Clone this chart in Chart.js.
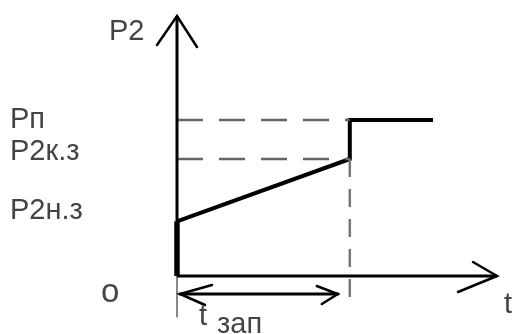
<!DOCTYPE html>
<html>
<head>
<meta charset="utf-8">
<script src="https://cdn.jsdelivr.net/npm/chart.js@4/dist/chart.umd.min.js"></script>
<style>
  html, body { margin: 0; padding: 0; background: #fff; }
  canvas { display: block; }
</style>
</head>
<body>
<canvas id="diagram" width="516" height="334"></canvas>
<script>
// time axis values (arbitrary units)
const tZap = 5.4;
const tEnd = 8.0;
const tAxisEnd = 10;
const pAxisEnd = 10;

// power levels and their labels
const levelLabels = ['Рп', 'P2к.з', 'P2н.з'];
const levelValues = [6.0, 4.5, 2.1];

// the P2(t) curve
const curveT = [0, 0, tZap, tZap, tEnd];
const curveP2 = [0, 2.1, 4.5, 6.0, 6.0];

const axisLabels = { y: 'P2', x: 't', origin: 'o', dim: 't', dimSub: 'зап' };

function pts(xs, ys) {
  return xs.map((x, i) => ({ x: x, y: ys[i] }));
}

function line(data, color, width, dash) {
  return {
    data: data,
    showLine: true,
    borderColor: color,
    borderWidth: width,
    borderDash: dash || [],
    pointRadius: 0,
    fill: false,
    tension: 0,
    clip: false
  };
}

const font = '29px "Liberation Sans", Arial, sans-serif';
const textColor = '#444';

// arrowheads, dimension arrow and labels
const sketchPlugin = {
  id: 'sketch',
  afterDatasetsDraw(chart) {
    const ctx = chart.ctx;
    const xs = chart.scales.x;
    const ys = chart.scales.y;
    const x0 = xs.getPixelForValue(0);
    const y0 = ys.getPixelForValue(0);
    const yTop = ys.getPixelForValue(pAxisEnd);
    const xEnd = xs.getPixelForValue(tAxisEnd);
    const xZap = xs.getPixelForValue(tZap);

    ctx.save();
    ctx.strokeStyle = '#000';
    ctx.lineCap = 'round';
    ctx.lineWidth = 2.5;

    // y axis arrow
    ctx.beginPath();
    ctx.moveTo(x0 - 20, yTop + 29);
    ctx.lineTo(x0, yTop);
    ctx.lineTo(x0 + 20, yTop + 31);
    ctx.stroke();

    // x axis arrow
    ctx.beginPath();
    ctx.moveTo(xEnd - 24, y0 - 14);
    ctx.lineTo(xEnd, y0);
    ctx.lineTo(xEnd - 39, y0 + 16);
    ctx.stroke();

    // dimension arrow for t зап
    const dy = y0 + 18;
    const dl = x0 + 3;
    const dr = xZap - 12;
    ctx.lineWidth = 3;
    ctx.beginPath();
    ctx.moveTo(dl, dy);
    ctx.lineTo(dr, dy);
    ctx.stroke();
    ctx.lineWidth = 2.5;
    ctx.beginPath();
    ctx.moveTo(dl + 32, dy - 9);
    ctx.lineTo(dl, dy);
    ctx.lineTo(dl + 25, dy + 11);
    ctx.stroke();
    ctx.beginPath();
    ctx.moveTo(dr - 21, dy - 8);
    ctx.lineTo(dr, dy);
    ctx.lineTo(dr - 16, dy + 10);
    ctx.stroke();

    // text
    ctx.fillStyle = textColor;
    ctx.font = font;
    ctx.textBaseline = 'alphabetic';
    ctx.textAlign = 'left';
    const labelShift = [8, 1, -2];
    levelLabels.forEach((lab, i) => {
      ctx.fillText(lab, 10, ys.getPixelForValue(levelValues[i]) + labelShift[i]);
    });
    ctx.fillText(axisLabels.y, x0 - 68, yTop + 24);
    ctx.fillText(axisLabels.x, xEnd + 7, y0 + 37);
    ctx.font = '33px "Liberation Sans", Arial, sans-serif';
    ctx.fillText(axisLabels.origin, x0 - 76, y0 + 26);
    ctx.font = font;
    ctx.fillText(axisLabels.dim, x0 + 22, y0 + 49);
    ctx.fillText(axisLabels.dimSub, x0 + 40, y0 + 57);
    ctx.restore();
  }
};

const datasets = [
  // axes
  line([{ x: 0, y: 0 }, { x: 0, y: pAxisEnd }], '#000', 3),
  line([{ x: 0, y: 0 }, { x: tAxisEnd, y: 0 }], '#000', 3),
  line([{ x: 0, y: 0 }, { x: 0, y: -1.6 }], '#888', 2),
  // dashed guides
  line([{ x: 0, y: levelValues[0] }, { x: tZap, y: levelValues[0] }], '#666', 2.5, [26, 16]),
  line([{ x: 0, y: levelValues[1] }, { x: tZap, y: levelValues[1] }], '#666', 2.5, [26, 16]),
  line([{ x: tZap, y: levelValues[1] }, { x: tZap, y: -1.25 }], '#777', 2.5, [18, 12]),
  // curve
  line(pts(curveT.slice(1), curveP2.slice(1)), '#000', 4),
  line(pts(curveT.slice(0, 2), curveP2.slice(0, 2)), '#000', 5.5)
];

new Chart(document.getElementById('diagram').getContext('2d'), {
  type: 'scatter',
  data: { datasets: datasets },
  options: {
    responsive: false,
    animation: false,
    layout: { padding: { left: 177, right: 19, top: 16, bottom: 16.4 } },
    scales: {
      x: { type: 'linear', min: 0, max: tAxisEnd, display: false },
      y: { type: 'linear', min: -1.6, max: pAxisEnd, display: false }
    },
    plugins: {
      legend: { display: false },
      tooltip: { enabled: false }
    }
  },
  plugins: [sketchPlugin]
});
</script>
</body>
</html>
